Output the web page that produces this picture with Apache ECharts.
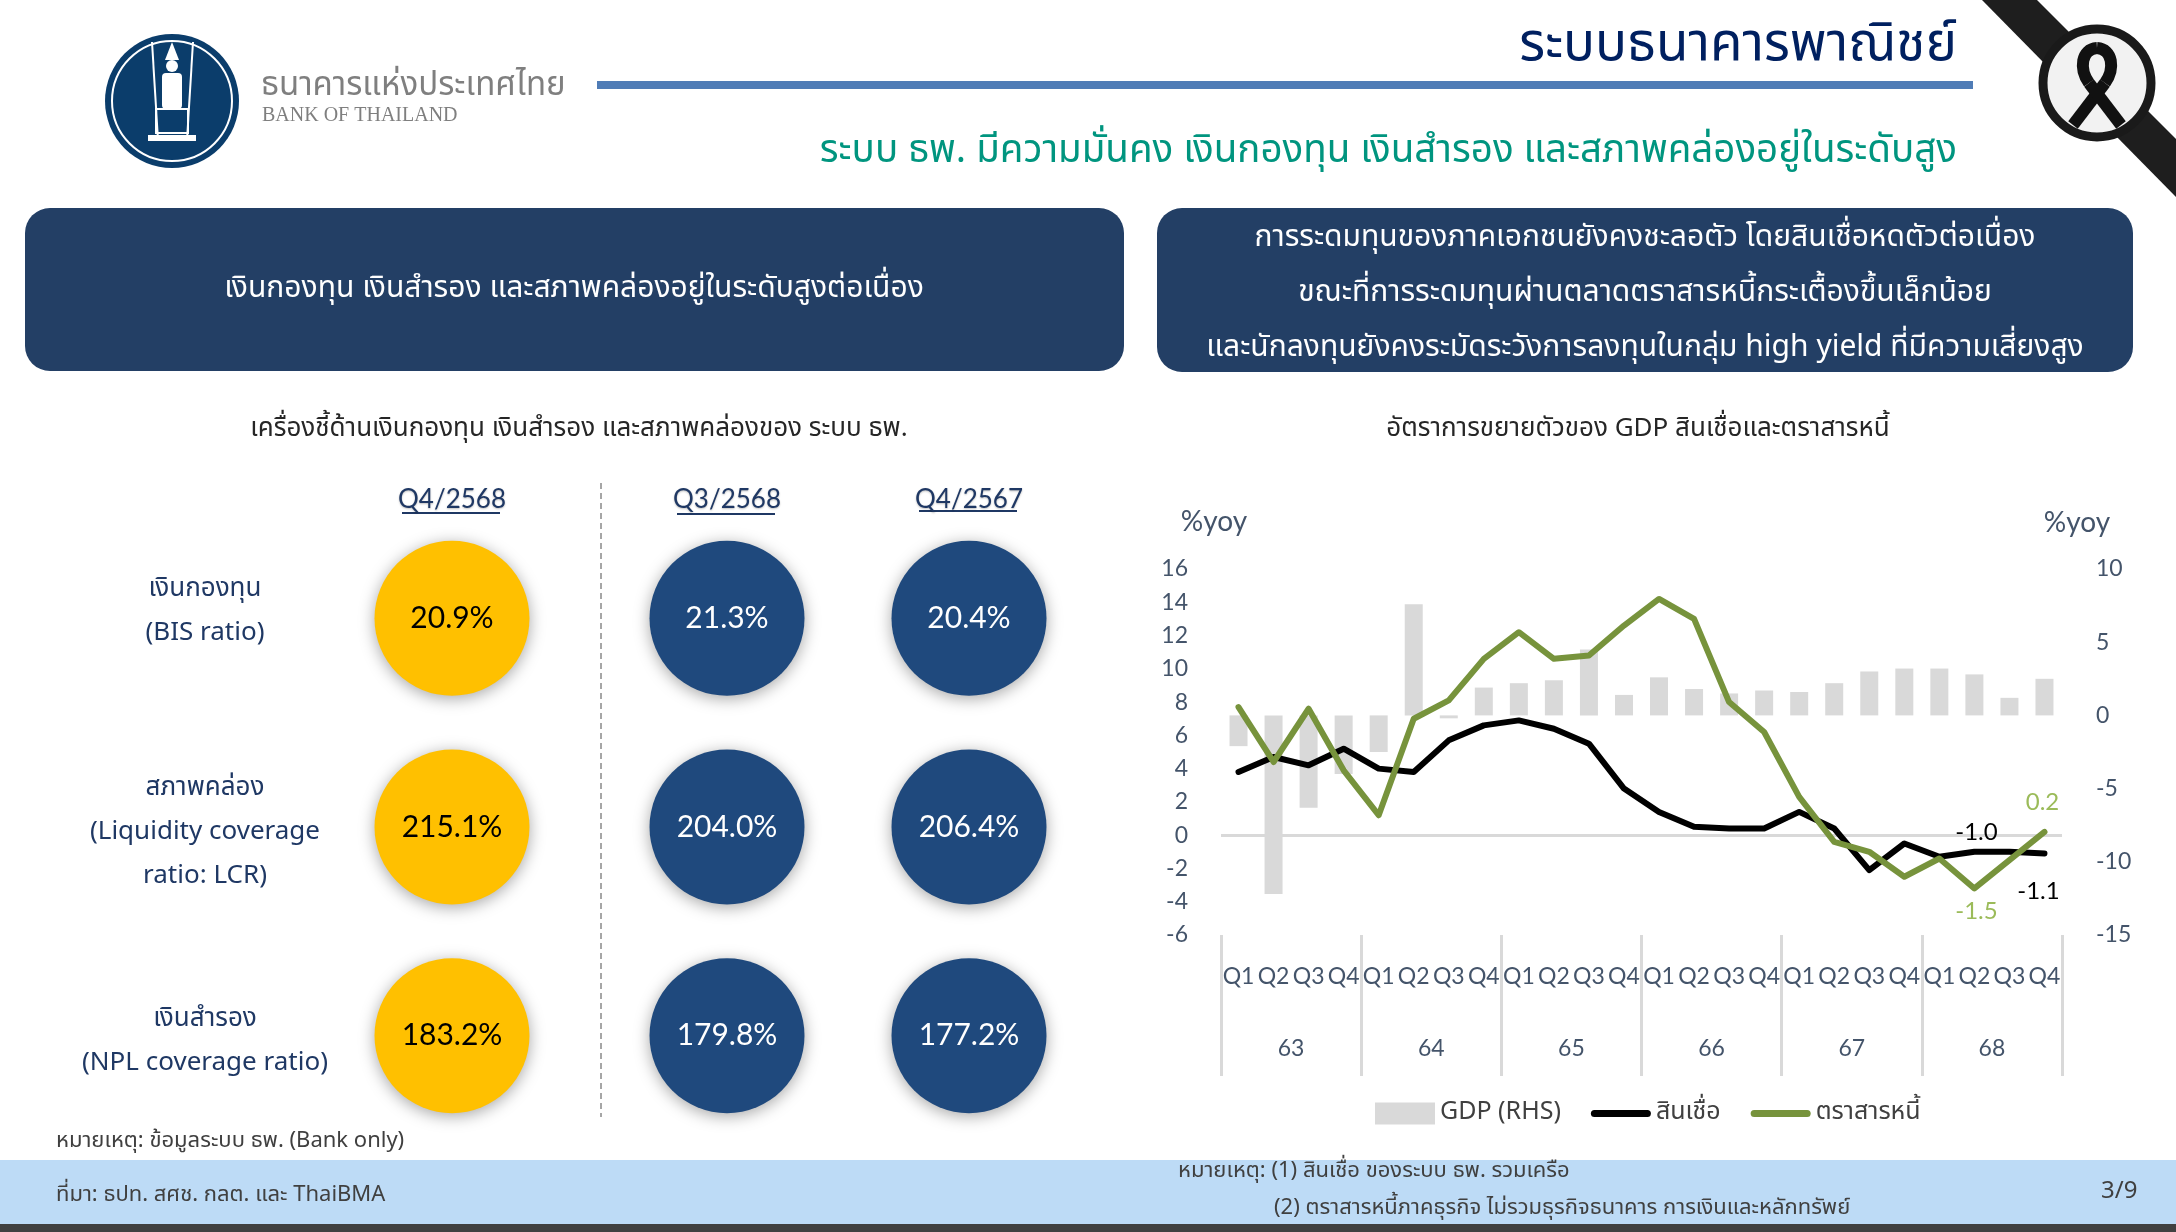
<!DOCTYPE html>
<html><head><meta charset="utf-8">
<script src="https://cdn.jsdelivr.net/npm/echarts@6/dist/echarts.min.js"></script>
<style>html,body{margin:0;padding:0;background:#fff;}#c{width:2176px;height:1232px;}</style>
</head><body><div id="c"></div>
<script>
// ---------- data ----------
const quarters = ['Q1','Q2','Q3','Q4','Q1','Q2','Q3','Q4','Q1','Q2','Q3','Q4','Q1','Q2','Q3','Q4','Q1','Q2','Q3','Q4','Q1','Q2','Q3','Q4'];
const years = ['63','64','65','66','67','68'];
const gdp   = [-2.1,-12.2,-6.3,-4.0,-2.5,7.6,-0.2,1.9,2.2,2.4,4.5,1.4,2.6,1.8,1.5,1.7,1.6,2.2,3.0,3.2,3.2,2.8,1.2,2.5];
const loans = [3.8,4.7,4.2,5.2,4.0,3.8,5.7,6.6,6.9,6.4,5.5,2.8,1.4,0.5,0.4,0.4,1.4,0.4,-2.1,-0.5,-1.3,-1.0,-1.0,-1.1];
const bonds = [7.7,4.4,7.6,3.9,1.2,7.0,8.1,10.6,12.2,10.6,10.8,12.6,14.2,13.0,8.0,6.2,2.3,-0.4,-1.0,-2.5,-1.4,-3.2,-1.5,0.2];
const leftTicks = {min:-6, max:16, interval:2};
const rightTicks = {min:-15, max:10, interval:5};

const colCurrent = ['Q4/2568'];
const colPrev = ['Q3/2568','Q4/2567'];
const rowLabels = ['เงินกองทุน\n(BIS ratio)','สภาพคล่อง\n(Liquidity coverage\nratio: LCR)','เงินสำรอง\n(NPL coverage ratio)'];
const current = [20.9, 215.1, 183.2];   // Q4/2568
const prevQ   = [21.3, 204.0, 179.8];   // Q3/2568
const prevY   = [20.4, 206.4, 177.2];   // Q4/2567

// ---------- styles ----------
const TH = "'Noto Sans Thai','Noto Sans Thai UI','Noto Sans','DejaVu Sans',sans-serif";
const NUM = "Lato,'Noto Sans',sans-serif";
const axisColor = '#44546A';
const rowColor = '#1F3864';

function txt(text, x, y, size, color, align, extra){
  return Object.assign({type:'text', silent:true, z:10, style:{text:text, x:x, y:y, fontSize:size, fontFamily:TH,
    fill:color, align:align||'left', textAlign:align||'left', verticalAlign:'middle', textVerticalAlign:'middle'}}, extra||{});
}

const labelAt = (v, pos, dx, dy, color) => ({value:v, label:{show:true, position:pos, offset:[dx,dy], color:color,
  fontSize:24, fontFamily:NUM, formatter: p => p.value.toFixed(1)}});

const loansData = loans.map(v => v);
loansData[22] = labelAt(loans[22], 'top', -33, -2, '#000');
loansData[23] = labelAt(loans[23], 'bottom', -6, 20, '#000');
const bondsData = bonds.map(v => v);
bondsData[22] = labelAt(bonds[22], 'bottom', -33, 34, '#9BBB59');
bondsData[23] = labelAt(bonds[23], 'top', -2, -12, '#9BBB59');

const RC = {x:2097, y:85};
const rib = {stroke:'#111', lineWidth:12, fill:'none', lineCap:'butt'};

const graphics = [
  // logo
  {type:'circle', shape:{cx:172, cy:101, r:67}, style:{fill:'#0B3D6B'}, silent:true},
  {type:'circle', shape:{cx:172, cy:101, r:60}, style:{fill:'none', stroke:'#fff', lineWidth:2}, silent:true},
  {type:'polygon', shape:{points:[[165,60],[172,42],[179,60]]}, style:{fill:'#fff'}, silent:true},
  {type:'circle', shape:{cx:172, cy:66, r:6}, style:{fill:'#fff'}, silent:true},
  {type:'rect', shape:{x:162, y:73, width:20, height:36, r:4}, style:{fill:'#fff'}, silent:true},
  {type:'line', shape:{x1:152, y1:42, x2:158, y2:140}, style:{stroke:'#fff', lineWidth:2}, silent:true},
  {type:'line', shape:{x1:193, y1:42, x2:187, y2:140}, style:{stroke:'#fff', lineWidth:2}, silent:true},
  {type:'rect', shape:{x:156, y:109, width:32, height:24}, style:{fill:'none', stroke:'#fff', lineWidth:2}, silent:true},
  {type:'rect', shape:{x:148, y:135, width:48, height:6}, style:{fill:'#fff'}, silent:true},
  txt('ธนาคารแห่งประเทศไทย', 261, 88, 33, '#7f7f7f', 'left'),
  {type:'text', silent:true, style:{text:'BANK OF THAILAND', x:262, y:116, fontSize:20, fontFamily:"'Liberation Serif',serif",
    fill:'#7f7f7f', align:'left', textAlign:'left', verticalAlign:'middle', textVerticalAlign:'middle'}},
  // header rule & titles
  {type:'rect', shape:{x:597, y:81, width:1376, height:8}, style:{fill:'#4F7CB6'}, silent:true},
  txt('ระบบธนาคารพาณิชย์', 1957, 49, 53, '#002060', 'right'),
  txt('ระบบ ธพ. มีความมั่นคง เงินกองทุน เงินสำรอง และสภาพคล่องอยู่ในระดับสูง', 1957, 154, 38.5, '#00957F', 'right'),
  // mourning ribbon
  {type:'polygon', shape:{points:[[1982,0],[2037,0],[2176,139],[2176,197]]}, style:{fill:'#1e1e1e'}, silent:true},
  {type:'circle', shape:{cx:2097, cy:83, r:54}, style:{fill:'#f2f2f2', stroke:'#1a1a1a', lineWidth:9}, silent:true},
  {type:'line', shape:{x1:RC.x-24, y1:RC.y+40, x2:RC.x+8, y2:RC.y-2}, style:rib, silent:true, z:11},
  {type:'line', shape:{x1:RC.x-8, y1:RC.y-2, x2:RC.x+24, y2:RC.y+40}, style:rib, silent:true, z:12},
  {type:'bezierCurve', shape:{x1:RC.x+8, y1:RC.y-2, cpx1:RC.x+18, cpy1:RC.y-16, cpx2:RC.x+16, cpy2:RC.y-36, x2:RC.x, y2:RC.y-37}, style:rib, silent:true, z:11},
  {type:'bezierCurve', shape:{x1:RC.x, y1:RC.y-37, cpx1:RC.x-16, cpy1:RC.y-36, cpx2:RC.x-18, cpy2:RC.y-16, x2:RC.x-8, y2:RC.y-2}, style:rib, silent:true, z:11},
  // boxes
  {type:'rect', shape:{x:25, y:208, width:1099, height:163, r:25}, style:{fill:'#233F65'}, silent:true},
  txt('เงินกองทุน เงินสำรอง และสภาพคล่องอยู่ในระดับสูงต่อเนื่อง', 574, 291, 30, '#ffffff', 'center'),
  {type:'rect', shape:{x:1157, y:208, width:976, height:164, r:25}, style:{fill:'#233F65'}, silent:true},
  txt('การระดมทุนของภาคเอกชนยังคงชะลอตัว โดยสินเชื่อหดตัวต่อเนื่อง', 1645, 240, 30, '#ffffff', 'center'),
  txt('ขณะที่การระดมทุนผ่านตลาดตราสารหนี้กระเตื้องขึ้นเล็กน้อย', 1645, 295, 30, '#ffffff', 'center'),
  txt('และนักลงทุนยังคงระมัดระวังการลงทุนในกลุ่ม high yield ที่มีความเสี่ยงสูง', 1645, 350, 30, '#ffffff', 'center'),
  // sub titles
  txt('เครื่องชี้ด้านเงินกองทุน เงินสำรอง และสภาพคล่องของ ระบบ ธพ.', 579, 431, 26, '#262626', 'center'),
  txt('อัตราการขยายตัวของ GDP สินเชื่อและตราสารหนี้', 1638, 431, 26, '#262626', 'center'),
  // left panel decorations
  {type:'line', shape:{x1:601, y1:483, x2:601, y2:1117}, style:{stroke:'#a6a6a6', lineWidth:2, lineDash:[6,4]}, silent:true},
  {type:'line', shape:{x1:402, y1:513, x2:500, y2:513}, style:{stroke:'#1F3864', lineWidth:2}, silent:true},
  {type:'line', shape:{x1:677, y1:514, x2:775, y2:514}, style:{stroke:'#1F3864', lineWidth:2}, silent:true},
  {type:'line', shape:{x1:919, y1:511, x2:1017, y2:511}, style:{stroke:'#1F3864', lineWidth:2}, silent:true},
  txt('หมายเหตุ: ข้อมูลระบบ ธพ. (Bank only)', 56, 1143, 22, '#404040', 'left'),
  // %yoy
  {type:'text', silent:true, style:{text:'%yoy', x:1214, y:522, fontSize:28, fontFamily:NUM, fill:axisColor, align:'center', textAlign:'center', verticalAlign:'middle', textVerticalAlign:'middle'}},
  {type:'text', silent:true, style:{text:'%yoy', x:2077, y:523, fontSize:28, fontFamily:NUM, fill:axisColor, align:'center', textAlign:'center', verticalAlign:'middle', textVerticalAlign:'middle'}},
  // footer
  {type:'rect', shape:{x:0, y:1160, width:2176, height:64}, style:{fill:'#BDDBF6'}, silent:true, z:1},
  {type:'rect', shape:{x:0, y:1224, width:2176, height:8}, style:{fill:'#404040'}, silent:true, z:1},
  txt('ที่มา: ธปท. สศช. กลต. และ ThaiBMA', 56, 1197, 22, '#404040', 'left'),
  txt('หมายเหตุ: (1) สินเชื่อ ของระบบ ธพ. รวมเครือ', 1178, 1173, 22, '#404040', 'left'),
  txt('(2) ตราสารหนี้ภาคธุรกิจ ไม่รวมธุรกิจธนาคาร การเงินและหลักทรัพย์', 1274, 1210, 22, '#404040', 'left'),
  txt('3/9', 2101, 1193, 24, '#404040', 'left')
];

const hiddenAxis = {axisLine:{show:false}, axisTick:{show:false}, splitLine:{show:false}};
const rowStyle = {fontSize:26, lineHeight:44, color:rowColor, fontFamily:TH, align:'center'};

const option = {
  animation:false,
  backgroundColor:'#ffffff',
  graphic: graphics,
  legend:{
    left:1370, top:1096, itemWidth:60, itemHeight:22, itemGap:30,
    textStyle:{fontSize:25, color:'#404040', fontFamily:TH},
    data:[
      {name:'GDP (RHS)', icon:'rect'},
      {name:'สินเชื่อ', icon:'path://M3.5,0H56.5A3.5,3.5 0 0 1 56.5,7H3.5A3.5,3.5 0 0 1 3.5,0Z'},
      {name:'ตราสารหนี้', icon:'path://M3.5,0H56.5A3.5,3.5 0 0 1 56.5,7H3.5A3.5,3.5 0 0 1 3.5,0Z'}
    ]
  },
  grid:[
    {left:1221, top:569, width:841, height:366},
    {left:331, top:514, width:242, height:626},
    {left:606, top:514, width:484, height:626}
  ],
  xAxis:[
    {type:'category', gridIndex:0, data:quarters, boundaryGap:true,
     axisLine:{show:false, onZero:false}, axisTick:{show:false},
     axisLabel:{interval:0, margin:30, color:axisColor, fontSize:23, fontFamily:NUM}},
    {type:'category', gridIndex:0, data:years, position:'bottom', boundaryGap:true,
     axisLine:{show:false, onZero:false},
     axisTick:{show:true, interval:0, length:141, lineStyle:{color:'#d9d9d9', width:3}},
     axisLabel:{interval:0, margin:102, color:axisColor, fontSize:23, fontFamily:NUM}},
    Object.assign({type:'category', gridIndex:1, data:colCurrent, position:'top',
     axisLabel:{margin:1, fontSize:26, color:'#1F3864', fontFamily:NUM,
       textShadowColor:'rgba(0,0,0,0.25)', textShadowBlur:2, textShadowOffsetY:1}}, hiddenAxis),
    Object.assign({type:'category', gridIndex:2, data:colPrev, position:'top',
     axisLabel:{margin:1, fontSize:26, color:'#1F3864', fontFamily:NUM,
       textShadowColor:'rgba(0,0,0,0.25)', textShadowBlur:2, textShadowOffsetY:1}}, hiddenAxis)
  ],
  yAxis:[
    Object.assign({type:'value', gridIndex:0, position:'left', min:leftTicks.min, max:leftTicks.max, interval:leftTicks.interval,
     axisLabel:{margin:33, color:axisColor, fontSize:23, fontFamily:NUM}}, hiddenAxis),
    Object.assign({type:'value', gridIndex:0, position:'right', min:rightTicks.min, max:rightTicks.max, interval:rightTicks.interval,
     axisLabel:{margin:34, color:axisColor, fontSize:23, fontFamily:NUM}}, hiddenAxis),
    Object.assign({type:'category', gridIndex:1, data:rowLabels, inverse:true,
     axisLabel:{margin:126, align:'center', lineHeight:44, fontSize:26, color:rowColor, fontFamily:TH,
       formatter:(v, i) => {
         const body = v.split('\n').map(l => '{n|' + l + '}').join('\n');
         return i === 0 ? body + '\n{s0| }' : '{s1| }\n' + body;
       },
       rich:{
         n: rowStyle,
         s0: {fontSize:2, lineHeight:11},
         s1: {fontSize:2, lineHeight:14}
       }}}, hiddenAxis),
    Object.assign({type:'category', gridIndex:2, data:rowLabels, inverse:true, axisLabel:{show:false}}, hiddenAxis)
  ],
  series:[
    {name:'GDP (RHS)', type:'bar', xAxisIndex:0, yAxisIndex:1, data:gdp, barWidth:18,
     itemStyle:{color:'#D9D9D9'}, z:1},
    {name:'สินเชื่อ', type:'line', xAxisIndex:0, yAxisIndex:0, data:loansData, symbol:'circle', symbolSize:1, showSymbol:true,
     lineStyle:{color:'#000000', width:6, join:'round', cap:'round'}, itemStyle:{color:'#000000'}, z:4,
     markLine:{silent:true, symbol:['none','none'], label:{show:false}, lineStyle:{color:'#D9D9D9', width:3, type:'solid'},
       data:[{yAxis:0}], z:2}},
    {name:'ตราสารหนี้', type:'line', xAxisIndex:0, yAxisIndex:0, data:bondsData, symbol:'circle', symbolSize:1, showSymbol:true,
     lineStyle:{color:'#77933C', width:6, join:'round', cap:'round'}, itemStyle:{color:'#77933C'}, z:5},
    {name:'current', type:'scatter', xAxisIndex:2, yAxisIndex:2, symbolSize:155,
     data: current.map((v,i)=>[0,i,v]),
     itemStyle:{color:'#FFC000', opacity:1, shadowBlur:16, shadowColor:'rgba(0,0,0,0.35)', shadowOffsetY:3},
     label:{show:true, position:'inside', color:'#000', fontSize:30, fontFamily:NUM, formatter:p=>p.value[2].toFixed(1)+'%'}},
    {name:'previous', type:'scatter', xAxisIndex:3, yAxisIndex:3, symbolSize:155,
     data: prevQ.map((v,i)=>[0,i,v]).concat(prevY.map((v,i)=>[1,i,v])),
     itemStyle:{color:'#1F497D', opacity:1, shadowBlur:16, shadowColor:'rgba(0,0,0,0.35)', shadowOffsetY:3},
     label:{show:true, position:'inside', color:'#fff', fontSize:30, fontFamily:NUM, formatter:p=>p.value[2].toFixed(1)+'%'}}
  ]
};

const chart = echarts.init(document.getElementById('c'), null, {renderer:'canvas'});
chart.setOption(option);
</script>
</body></html>
